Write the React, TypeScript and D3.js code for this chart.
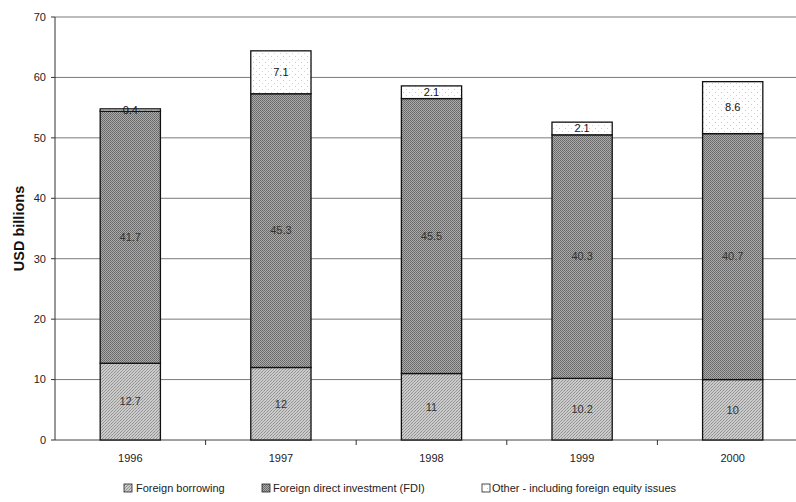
import React from "react";
import * as d3 from "d3";

const years = ["1996", "1997", "1998", "1999", "2000"];
const foreignBorrowing = [12.7, 12, 11, 10.2, 10];
const fdi = [41.7, 45.3, 45.5, 40.3, 40.7];
const other = [0.4, 7.1, 2.1, 2.1, 8.6];
const seriesNames = [
  "Foreign borrowing",
  "Foreign direct investment (FDI)",
  "Other - including foreign equity issues",
];
const yTicks = [0, 10, 20, 30, 40, 50, 60, 70];

const W = 796;
const H = 502;
const M = { left: 55, right: 808, top: 17, bottom: 440 };
const FONT = "'Liberation Sans', Arial, sans-serif";

export default function App() {
  const x = d3
    .scaleBand<string>()
    .domain(years)
    .range([M.left, M.right])
    .paddingInner(0.6)
    .paddingOuter(0.3);
  const y = d3.scaleLinear().domain([0, 70]).range([M.bottom, M.top]);

  const rows = years.map((yr, i) => ({
    year: yr,
    borrowing: foreignBorrowing[i],
    fdi: fdi[i],
    other: other[i],
  }));
  const stack = d3.stack<any>().keys(["borrowing", "fdi", "other"]);
  const layers = stack(rows);
  const fills = ["url(#patB)", "url(#patF)", "url(#patO)"];
  const textFill = ["#333", "#333", "#111"];

  const step = x.step();
  const catTicks = years.slice(1).map((yr) => (x(yr) as number) - (step * 0.6) / 2);

  const legendItems = [
    { sx: 124, tx: 136, fill: fills[0], label: seriesNames[0] },
    { sx: 262, tx: 273, fill: fills[1], label: seriesNames[1] },
    { sx: 482, tx: 492, fill: fills[2], label: seriesNames[2] },
  ];

  return (
    <svg
      width={W}
      height={H}
      style={{ position: "absolute", left: 0, top: 0, background: "#fff" }}
      fontFamily={FONT}
    >
      <defs>
        <pattern id="patB" width="3" height="3" patternUnits="userSpaceOnUse">
          <rect width="3" height="3" fill="#cbcbcb" />
          <rect x="0" y="0" width="1" height="1" fill="#8e8e8e" />
          <rect x="2" y="1" width="1" height="1" fill="#a0a0a0" />
          <rect x="1" y="2" width="1" height="1" fill="#949494" />
        </pattern>
        <pattern id="patF" width="2" height="2" patternUnits="userSpaceOnUse">
          <rect width="2" height="2" fill="#ababab" />
          <rect x="0" y="0" width="1" height="1" fill="#666" />
          <rect x="1" y="1" width="1" height="1" fill="#717171" />
        </pattern>
        <pattern id="patO" width="6" height="6" patternUnits="userSpaceOnUse">
          <rect width="6" height="6" fill="#fff" />
          <rect x="1" y="2" width="1" height="1" fill="#c8c8c8" />
          <rect x="4" y="5" width="1" height="1" fill="#d4d4d4" />
        </pattern>
      </defs>

      {/* gridlines */}
      {yTicks.map((t) => (
        <line
          key={"g" + t}
          x1={M.left}
          x2={W}
          y1={y(t)}
          y2={y(t)}
          stroke={t === 0 ? "#444" : "#7a7a7a"}
          strokeWidth={1}
        />
      ))}

      {/* bars */}
      {layers.map((layer, li) =>
        layer.map((seg, i) => {
          const x0 = x(years[i]) as number;
          const bw = x.bandwidth();
          const yTop = y(seg[1]);
          const yBot = y(seg[0]);
          return (
            <rect
              key={`b${li}-${i}`}
              x={x0}
              y={yTop}
              width={bw}
              height={yBot - yTop}
              fill={fills[li]}
              stroke="#111"
              strokeWidth={1.3}
            />
          );
        })
      )}

      {/* value labels */}
      {layers.map((layer, li) =>
        layer.map((seg, i) => {
          const x0 = (x(years[i]) as number) + x.bandwidth() / 2;
          const yc = (y(seg[0]) + y(seg[1])) / 2;
          const v = seg[1] - seg[0];
          return (
            <text
              key={`t${li}-${i}`}
              x={x0}
              y={yc}
              dy="0.35em"
              textAnchor="middle"
              fontSize={11}
              fill={textFill[li]}
            >
              {d3.format("~g")(+v.toFixed(1))}
            </text>
          );
        })
      )}

      {/* y axis */}
      <line x1={M.left} x2={M.left} y1={M.top} y2={M.bottom} stroke="#333" strokeWidth={1} />
      {yTicks.map((t) => (
        <g key={"yt" + t}>
          <line x1={M.left - 4} x2={M.left} y1={y(t)} y2={y(t)} stroke="#333" />
          <text
            x={M.left - 9}
            y={y(t)}
            dy="0.35em"
            textAnchor="end"
            fontSize={11}
            fill="#222"
          >
            {t}
          </text>
        </g>
      ))}
      <text
        transform={`translate(24,${(M.top + M.bottom) / 2}) rotate(-90)`}
        textAnchor="middle"
        fontSize={14.5}
        fontWeight="bold"
        fill="#111"
      >
        USD billions
      </text>

      {/* x axis */}
      {catTicks.map((cx, i) => (
        <line key={"xt" + i} x1={cx} x2={cx} y1={M.bottom} y2={M.bottom + 5} stroke="#333" />
      ))}
      {years.map((yr) => (
        <text
          key={"xl" + yr}
          x={(x(yr) as number) + x.bandwidth() / 2}
          y={462}
          textAnchor="middle"
          fontSize={11}
          fill="#222"
        >
          {yr}
        </text>
      ))}

      {/* legend */}
      {legendItems.map((it, i) => (
        <g key={"lg" + i}>
          <rect x={it.sx} y={484} width={8} height={8} fill={it.fill} stroke="#222" strokeWidth={0.8} />
          <text x={it.tx} y={492} fontSize={11} fill="#222">
            {it.label}
          </text>
        </g>
      ))}
    </svg>
  );
}
